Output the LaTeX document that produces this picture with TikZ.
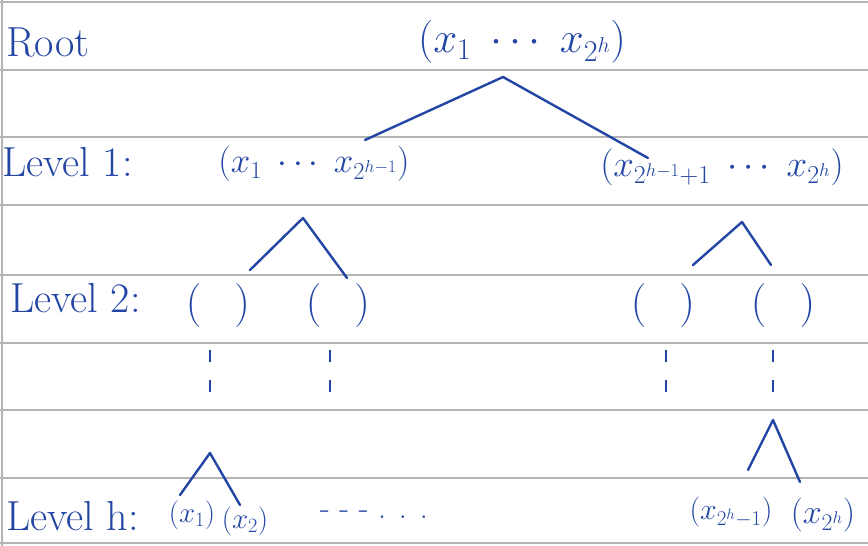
\RequirePackage{fix-cm}
\documentclass[tikz,border=0pt]{standalone}
\definecolor{ink}{RGB}{35,70,165}
\definecolor{rulegray}{RGB}{180,180,180}
\begin{document}
\begin{tikzpicture}[x=1pt,y=-1pt,
  txt/.style={text=ink, font=\fontsize{#1}{#1}\selectfont, inner sep=2pt},
  txt/.default=40,
  lbl/.style={text=ink, font=\fontsize{42}{48}\selectfont, inner sep=2pt, anchor=west},
  edge/.style={draw=ink, line width=2.4pt, line cap=round, line join=round},
  vdash/.style={draw=ink, line width=2pt, dash pattern=on 12pt off 18pt},
  paper/.style={draw=rulegray, line width=1.5pt}]
\useasboundingbox (0,0) rectangle (868,546);
\fill[white] (0,0) rectangle (868,546);
\foreach \y in {2,70,137,205,275,343,410,478,543} \draw[paper] (0,\y) -- (868,\y);
\draw[paper] (2,0) -- (2,546);
% labels
\node[lbl] (lroot) at (4,42) {Root};
\node[lbl] (lone) at (0,162) {Level 1:};
\node[lbl] (ltwo) at (8,298) {Level 2:};
\node[lbl] (lh) at (4,516) {Level h:};
% nodes
\node[txt=43] (root) at (522,42) {$(x_1\;\cdots\;x_{2^h})$};
\node[txt=35] (a) at (314,164) {$(x_1\;\cdots\;x_{2^{h-1}})$};
\node[txt=37] (b) at (722,167) {$(x_{2^{h-1}+1}\;\cdots\;x_{2^h})$};
\node[txt=44] (a1) at (218,305) {$(\hspace{0.75em})$};
\node[txt=44] (a2) at (338,305) {$(\hspace{0.75em})$};
\node[txt=44] (b1) at (663,305) {$(\hspace{0.75em})$};
\node[txt=44] (b2) at (783,305) {$(\hspace{0.75em})$};
\node[txt=29, inner sep=1pt] (x1) at (192,515) {$(x_1)$};
\node[txt=29, inner sep=1pt] (x2) at (245,521) {$(x_2)$};
\node[txt=32] (dd) at (374,515) {- - - . . .};
\node[txt=30, inner sep=1pt] (xm) at (731,512) {$(x_{2^h-1})$};
\node[txt=34, inner sep=1pt] (xn) at (823,515) {$(x_{2^h})$};
% connector coordinates
\coordinate (rt) at (503,77);
\coordinate (ra) at (365,140);
\coordinate (rb) at (648,158);
\coordinate (at) at (303,218);
\coordinate (aa) at (250,270);
\coordinate (ab) at (347,278);
\coordinate (bt) at (742,222);
\coordinate (ba) at (693,265);
\coordinate (bb) at (771,265);
\coordinate (ht) at (210,453);
\coordinate (ha) at (180,495);
\coordinate (hb) at (240,505);
\coordinate (kt) at (773,420);
\coordinate (ka) at (748,470);
\coordinate (kb) at (800,482);
\draw[edge] (ra) -- (rt) -- (rb);
\draw[edge] (aa) -- (at) -- (ab);
\draw[edge] (ba) -- (bt) -- (bb);
\draw[edge] (ha) -- (ht) -- (hb);
\draw[edge] (ka) -- (kt) -- (kb);
% dashed continuations
\coordinate (d1) at (210,350);
\coordinate (d2) at (330,350);
\coordinate (d3) at (666,350);
\coordinate (d4) at (773,350);
\draw[vdash] (d1) -- (210,408);
\draw[vdash] (d2) -- (330,408);
\draw[vdash] (d3) -- (666,408);
\draw[vdash] (d4) -- (773,408);
\end{tikzpicture}
\end{document}
